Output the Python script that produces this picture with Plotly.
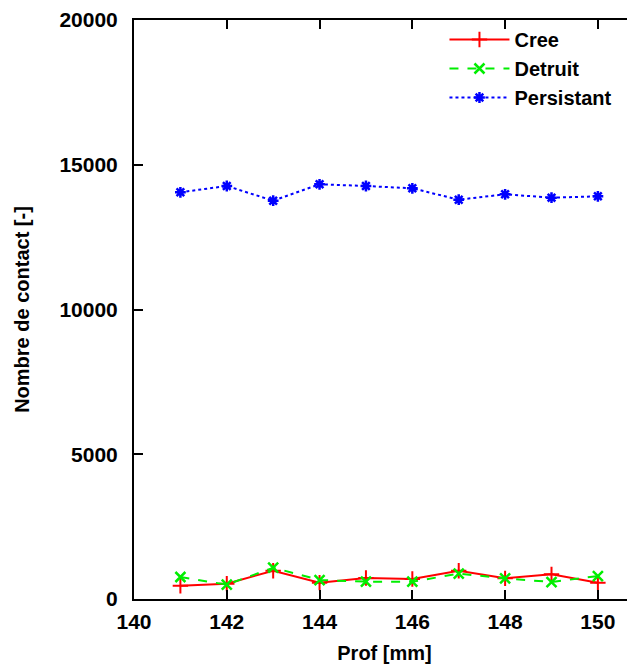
import plotly.graph_objects as go

prof = [141, 142, 143, 144, 145, 146, 147, 148, 149, 150]
cree = [460, 530, 978, 564, 725, 690, 978, 714, 852, 564]
detruit = [760, 495, 1082, 656, 599, 599, 875, 714, 587, 794]
persistant = [14049, 14266, 13759, 14325, 14266, 14186, 13793, 13980, 13863, 13910]

x_ticks = [140, 142, 144, 146, 148, 150]
y_ticks = [0, 5000, 10000, 15000, 20000]
y_ticktext = ["0", "5000", "10000", "15000", "20000"]

fig = go.Figure()
fig.add_trace(go.Scatter(x=prof, y=cree, name="Cree", mode="lines+markers",
                         line=dict(color="#ff0000", width=2),
                         marker=dict(symbol="cross-thin", size=11, line=dict(color="#ff0000", width=2))))
fig.add_trace(go.Scatter(x=prof, y=detruit, name="Detruit", mode="lines+markers",
                         line=dict(color="#00ee00", width=2, dash="dash"),
                         marker=dict(symbol="x-thin", size=10, line=dict(color="#00ee00", width=2.5))))
fig.add_trace(go.Scatter(x=prof, y=persistant, name="Persistant", mode="lines+markers",
                         line=dict(color="#0000ff", width=2, dash="dot"),
                         marker=dict(symbol="asterisk-open", size=9, line=dict(color="#0000ff", width=2.5))))

font = "Liberation Sans, Arial, Helvetica, sans-serif"
fig.update_layout(
    width=635, height=671,
    margin=dict(l=126, r=8, t=12, b=80, autoexpand=False),
    paper_bgcolor="white", plot_bgcolor="white",
    font=dict(family=font, size=21, color="black", weight="bold"),
    xaxis=dict(range=[140, 150.80], tickvals=x_ticks, ticks="inside", ticklen=9, tickwidth=2,
               tickcolor="black", showline=True, linecolor="black", linewidth=2, mirror="ticks",
               showgrid=False, zeroline=False, automargin=False, ticklabelstandoff=3,
               tickfont=dict(size=21, weight="bold"),
               title=dict(text="Prof [mm]", font=dict(size=20, weight="bold"), standoff=14)),
    yaxis=dict(range=[0, 20000], tickvals=y_ticks, ticktext=y_ticktext, ticks="inside", ticklen=9,
               tickwidth=2, tickcolor="black", showline=True, linecolor="black", linewidth=2,
               mirror=False, showgrid=False, zeroline=False, automargin=False, ticklabelstandoff=10,
               tickfont=dict(size=21, weight="bold"),
               title=dict(text="Nombre de contact [-]", font=dict(size=20, weight="bold"), standoff=24)),
    legend=dict(x=0.965, y=1.0, xanchor="right", yanchor="top", bgcolor="rgba(0,0,0,0)",
                font=dict(size=20, weight="bold"), tracegroupgap=0, itemwidth=60),
)
fig.write_html("out.html")
